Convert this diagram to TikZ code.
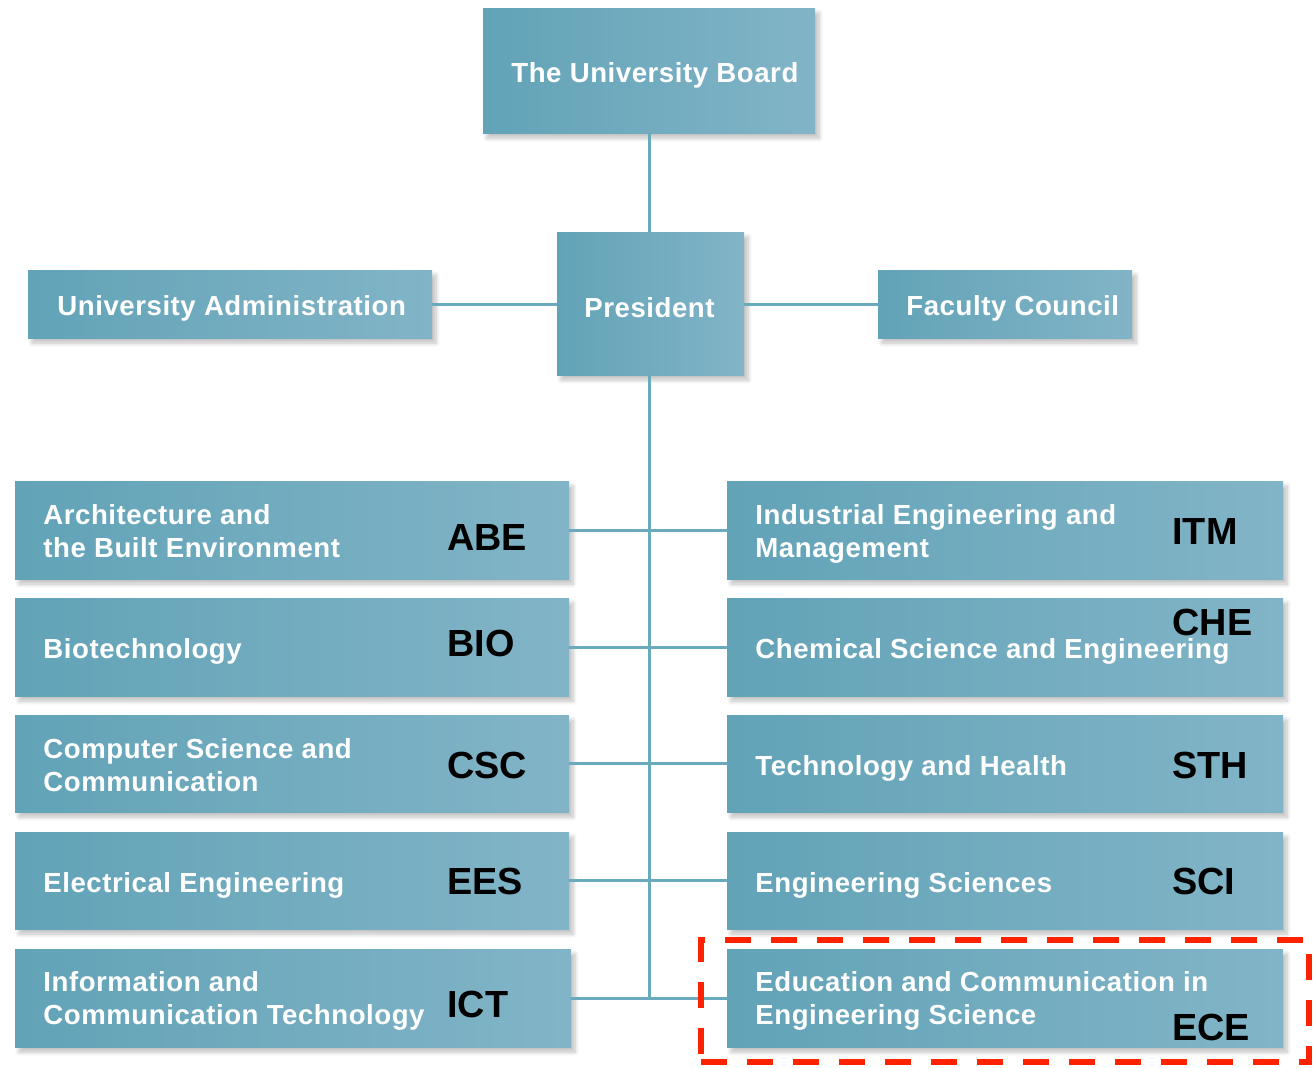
\documentclass[tikz,border=0pt]{standalone}
\usepackage{fontspec}
\setmainfont{Liberation Sans}
\usetikzlibrary{shadows.blur}
\definecolor{boxL}{HTML}{62A3B7}
\definecolor{boxR}{HTML}{82B4C7}
\definecolor{lineC}{HTML}{6AAABD}
\definecolor{redD}{HTML}{FF2200}
\begin{document}
\begin{tikzpicture}[x=0.5pt,y=-0.5pt,
  box/.style 2 args={rectangle, inner sep=0pt, outer sep=0pt,
    minimum width=#1*0.5pt, minimum height=#2*0.5pt,
    left color=boxL, right color=boxR, draw=none,
    blur shadow={shadow xshift=2pt, shadow yshift=-2.5pt, shadow blur steps=8, shadow opacity=25}},
  lbl/.style={text=white, font=\bfseries\fontsize{13.8}{16.5}\selectfont\addfontfeatures{LetterSpace=2}, align=left, anchor=west, inner sep=0pt},
  abbr/.style={text=black, font=\bfseries\fontsize{18.9}{22}\selectfont, anchor=west, inner sep=0pt},
  conn/.style={draw=lineC, line width=1.5pt}]
\useasboundingbox (0,0) rectangle (1316,1067);
\node[box={332}{125}] (board) at (649,70.5) {};
\node[box={187}{143}] (pres) at (650.5,303.5) {};
\node[box={404}{68}] (admin) at (230,304) {};
\node[box={254}{68}] (fac) at (1005,304) {};
\node[box={554}{98}] (abe) at (292,530) {};
\node[box={554}{98}] (bio) at (292,647) {};
\node[box={554}{97}] (csc) at (292,763.5) {};
\node[box={554}{97}] (ees) at (292,880.5) {};
\node[box={556}{98}] (ict) at (293,998) {};
\node[box={556}{98}] (itm) at (1005,530) {};
\node[box={556}{98}] (che) at (1005,647) {};
\node[box={556}{97}] (sth) at (1005,763.5) {};
\node[box={556}{97}] (sci) at (1005,880.5) {};
\node[box={556}{98}] (ece) at (1005,998) {};
\coordinate (trunkend) at (649,998);
\draw[conn] (board.south) -- (board.south |- pres.north);
\draw[conn] (pres.south -| trunkend) -- (trunkend);
\draw[conn] (admin.east) -- (pres.west |- admin.east);
\draw[conn] (pres.east |- fac.west) -- (fac.west);
\draw[conn] (abe.east) -- (itm.west);
\draw[conn] (bio.east) -- (che.west);
\draw[conn] (csc.east) -- (sth.west);
\draw[conn] (ees.east) -- (sci.west);
\draw[conn] (ict.east) -- (ece.west);
% texts
\node[lbl] (boardT) at (511,75) {The University Board};
\node[lbl] (presT) at (584,308) {President};
\node[lbl] (adminT) at (57,308) {University Administration};
\node[lbl] (facT) at (906,308) {Faculty Council};
\node[lbl] (abeT) at (43,531) {Architecture and\\the Built Environment};
\node[abbr] (abeA) at (447,537) {ABE};
\node[lbl] (bioT) at (43,651) {Biotechnology};
\node[abbr] (bioA) at (447,643) {BIO};
\node[lbl] (cscT) at (43,765) {Computer Science and\\Communication};
\node[abbr] (cscA) at (447,765) {CSC};
\node[lbl] (eesT) at (43,885) {Electrical Engineering};
\node[abbr] (eesA) at (447,881) {EES};
\node[lbl] (ictT) at (43,1001) {Information and\\Communication Technology};
\node[abbr] (ictA) at (447,1004) {ICT};
\node[lbl] (itmT) at (755,534) {Industrial Engineering and\\Management};
\node[abbr] (itmA) at (1172,531) {ITM};
\node[lbl] (cheT) at (755,651) {Chemical Science and Engineering};
\node[abbr] (cheA) at (1172,622) {CHE};
\node[lbl] (sthT) at (755,768) {Technology and Health};
\node[abbr] (sthA) at (1172,765) {STH};
\node[lbl] (sciT) at (755,885) {Engineering Sciences};
\node[abbr] (sciA) at (1172,881) {SCI};
\node[lbl] (eceT) at (755,1001) {Education and Communication in\\Engineering Science};
\node[abbr] (eceA) at (1172,1027) {ECE};
% highlight
\node[draw=redD, line width=3pt, dash pattern=on 13pt off 10pt, rectangle, inner sep=0pt,
  minimum width=608*0.5pt, minimum height=122*0.5pt] (hl) at (1005,1001) {};
\end{tikzpicture}
\end{document}
